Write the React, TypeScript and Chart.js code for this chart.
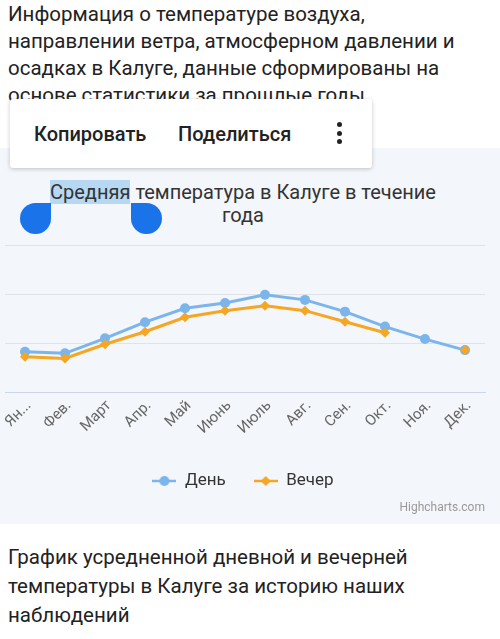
import React, { useEffect, useRef } from "react";
import { Chart, registerables } from "chart.js";

Chart.register(...registerables);

const months = ["Ян...", "Фев.", "Март", "Апр.", "Май", "Июнь", "Июль", "Авг.", "Сен.", "Окт.", "Ноя.", "Дек."];
const dayTemps = [-3.6, -4.2, 1.9, 8.5, 14.2, 16.3, 19.7, 17.6, 12.8, 6.7, 1.6, -2.9];
const eveningTemps: (number | null)[] = [-5.6, -6.3, -0.5, 4.6, 10.5, 13.2, 15.2, 13.2, 8.7, 4.2, null, -2.9];
const yTicks = [-20, 0, 20, 40];
const seriesNames = ["День", "Вечер"];
const seriesColors = ["#7cb5ec", "#f5a623"];
const seriesMarkers = ["circle", "rectRot"];

const FONT = "Roboto, 'Noto Sans', sans-serif";

function makeLegendSymbol(color: string, marker: string): HTMLCanvasElement {
  const c = document.createElement("canvas");
  c.width = 24;
  c.height = 12;
  const ctx = c.getContext("2d")!;
  ctx.strokeStyle = color;
  ctx.lineWidth = 2.5;
  ctx.beginPath();
  ctx.moveTo(0, 6);
  ctx.lineTo(24, 6);
  ctx.stroke();
  ctx.fillStyle = color;
  ctx.beginPath();
  if (marker === "circle") {
    ctx.arc(12, 6, 5, 0, Math.PI * 2);
  } else {
    ctx.moveTo(12, 1);
    ctx.lineTo(17, 6);
    ctx.lineTo(12, 11);
    ctx.lineTo(7, 6);
    ctx.closePath();
  }
  ctx.fill();
  return c;
}

function TempChart() {
  const ref = useRef<HTMLCanvasElement | null>(null);
  useEffect(() => {
    if (!ref.current) return;
    Chart.defaults.font.family = FONT;
    const symbols = seriesColors.map((c, i) => makeLegendSymbol(c, seriesMarkers[i]));
    const chart = new Chart(ref.current, {
      type: "line",
      data: {
        labels: months,
        datasets: [
          {
            label: seriesNames[0],
            data: dayTemps,
            borderColor: seriesColors[0],
            backgroundColor: seriesColors[0],
            borderWidth: 3,
            pointStyle: "circle",
            pointRadius: 5,
            pointBorderWidth: 0,
            tension: 0,
            order: 2,
          },
          {
            label: seriesNames[1],
            data: eveningTemps,
            borderColor: seriesColors[1],
            backgroundColor: seriesColors[1],
            borderWidth: 3,
            pointStyle: "rectRot",
            pointRadius: 5,
            pointBorderWidth: 0,
            tension: 0,
            spanGaps: false,
            order: 1,
          },
        ],
      },
      options: {
        animation: false,
        responsive: false,
        maintainAspectRatio: false,
        layout: { padding: { top: 9, left: 1, right: 15, bottom: 24.5 } },
        scales: {
          x: {
            type: "category",
            offset: true,
            grid: { display: false, drawTicks: false },
            border: { display: true, color: "#ccd6eb", width: 1 },
            ticks: {
              autoSkip: false,
              minRotation: 45,
              maxRotation: 45,
              padding: 5,
              labelOffset: 4,
              color: "#666666",
              font: { family: FONT, size: 15 },
            },
            afterFit: (s: any) => {
              s.height = 52.5;
              s.paddingLeft = 0;
              s.paddingRight = 0;
            },
          },
          y: {
            min: yTicks[0],
            max: yTicks[yTicks.length - 1],
            afterBuildTicks: (s: any) => {
              s.ticks = yTicks.map((v) => ({ value: v }));
            },
            ticks: { display: false },
            grid: { color: "#dfe3e9", drawTicks: false },
            border: { display: false },
            afterFit: (s: any) => {
              s.width = 0;
              s.paddingTop = 0;
              s.paddingBottom = 0;
            },
          },
        },
        plugins: {
          tooltip: { enabled: false },
          title: { display: false },
          legend: {
            position: "bottom",
            labels: {
              usePointStyle: true,
              pointStyleWidth: 24,
              padding: 28,
              color: "#333333",
              font: { family: FONT, size: 17 },
              generateLabels: () =>
                seriesNames.map((name, i) => ({
                  text: name,
                  fillStyle: seriesColors[i],
                  strokeStyle: seriesColors[i],
                  lineWidth: 0,
                  pointStyle: symbols[i] as any,
                  datasetIndex: i,
                  hidden: false,
                  fontColor: "#333333",
                })),
            },
          },
        },
      },
    });
    return () => chart.destroy();
  }, []);
  return (
    <canvas
      ref={ref}
      width={500}
      height={288}
      style={{ position: "absolute", left: 0, top: 236, width: 500, height: 288 }}
    />
  );
}

export default function App() {
  const textStyle: React.CSSProperties = {
    position: "absolute",
    left: 8,
    fontFamily: FONT,
    fontSize: 20.5,
    color: "#222",
    whiteSpace: "nowrap",
  };
  const menuText: React.CSSProperties = {
    position: "absolute",
    top: 23,
    fontFamily: FONT,
    fontSize: 20,
    fontWeight: 500,
    color: "#222",
    whiteSpace: "nowrap",
  };
  return (
    <div
      style={{
        position: "absolute",
        left: 0,
        top: 0,
        width: 500,
        height: 639,
        overflow: "hidden",
        background: "#ffffff",
        fontFamily: FONT,
      }}
    >
      <div style={{ ...textStyle, top: 1, lineHeight: "27px" }}>
        Информация о температуре воздуха,
        <br />
        направлении ветра, атмосферном давлении и
        <br />
        осадках в Калуге, данные сформированы на
        <br />
        основе статистики за прошлые годы.
      </div>

      <div style={{ position: "absolute", left: 0, top: 148, width: 500, height: 376, background: "#f3f6fa" }} />

      <div
        style={{
          position: "absolute",
          left: 0,
          top: 180.5,
          width: 486,
          textAlign: "center",
          fontFamily: FONT,
          fontSize: 20,
          lineHeight: "23.5px",
          color: "#333",
          whiteSpace: "nowrap",
        }}
      >
        <span style={{ background: "#b7d8f2" }}>Средняя</span> температура в Калуге в течение
        <br />
        года
      </div>

      <TempChart />

      <div
        style={{
          position: "absolute",
          left: 20,
          top: 203,
          width: 31,
          height: 31,
          background: "#1a73e8",
          borderRadius: "50% 0 50% 50%",
        }}
      />
      <div
        style={{
          position: "absolute",
          left: 131,
          top: 203,
          width: 31,
          height: 31,
          background: "#1a73e8",
          borderRadius: "0 50% 50% 50%",
        }}
      />

      <div
        style={{
          position: "absolute",
          right: 15,
          top: 500,
          fontFamily: FONT,
          fontSize: 12,
          color: "#999",
        }}
      >
        Highcharts.com
      </div>

      <div
        style={{
          position: "absolute",
          left: 10,
          top: 99,
          width: 362,
          height: 69,
          background: "#fff",
          borderRadius: 3,
          boxShadow: "0 1px 4px rgba(0,0,0,0.22)",
          zIndex: 5,
        }}
      >
        <div style={{ ...menuText, left: 24 }}>Копировать</div>
        <div style={{ ...menuText, left: 168 }}>Поделиться</div>
        {[0, 1, 2].map((i) => (
          <div
            key={i}
            style={{
              position: "absolute",
              left: 327,
              top: 23 + i * 8.5,
              width: 5,
              height: 5,
              borderRadius: "50%",
              background: "#222",
            }}
          />
        ))}
      </div>

      <div style={{ ...textStyle, top: 543, lineHeight: "29px" }}>
        График усредненной дневной и вечерней
        <br />
        температуры в Калуге за историю наших
        <br />
        наблюдений
      </div>
    </div>
  );
}
